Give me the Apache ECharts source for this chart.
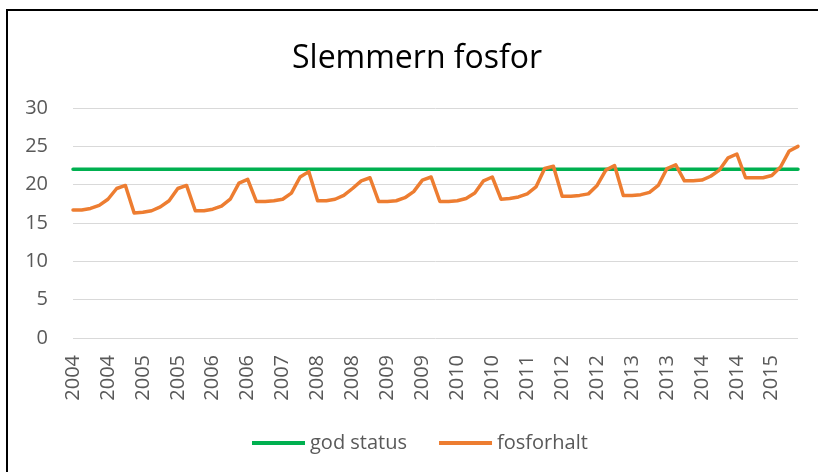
<!DOCTYPE html>
<html>
<head>
<meta charset="utf-8">
<script src="https://cdn.jsdelivr.net/npm/echarts@6/dist/echarts.min.js"></script>
<style>
  html, body { margin: 0; padding: 0; background: #fff; }
  #chart { width: 818px; height: 472px; }
</style>
</head>
<body>
<div id="chart"></div>
<script>
// år i serien, 7 mätningar per år
const years = [2004, 2005, 2006, 2007, 2008, 2009, 2010, 2011, 2012, 2013, 2014, 2015];

// fosforhalt per år
const fosforByYear = [
  [16.7, 16.7, 16.9, 17.3, 18.1, 19.5, 19.9],
  [16.3, 16.4, 16.6, 17.1, 17.9, 19.5, 19.9],
  [16.6, 16.6, 16.8, 17.2, 18.1, 20.2, 20.7],
  [17.8, 17.8, 17.9, 18.1, 18.9, 21.0, 21.7],
  [17.9, 17.9, 18.1, 18.6, 19.5, 20.5, 20.9],
  [17.8, 17.8, 17.9, 18.3, 19.1, 20.6, 21.0],
  [17.8, 17.8, 17.9, 18.2, 18.9, 20.5, 21.0],
  [18.1, 18.2, 18.4, 18.8, 19.7, 22.1, 22.4],
  [18.5, 18.5, 18.6, 18.8, 19.9, 21.9, 22.5],
  [18.6, 18.6, 18.7, 19.0, 19.9, 22.1, 22.6],
  [20.5, 20.5, 20.6, 21.1, 21.9, 23.5, 24.0],
  [20.9, 20.9, 20.9, 21.2, 22.3, 24.4, 25.0]
];

// gränsvärde för god status
const godStatus = 22;

const categories = [];
const fosforhalt = [];
fosforByYear.forEach((row, i) => {
  row.forEach(v => {
    categories.push(String(years[i]));
    fosforhalt.push(v);
  });
});
const godStatusData = categories.map(() => godStatus);

const chart = echarts.init(document.getElementById('chart'));
const font = '"Open Sans", sans-serif';

chart.setOption({
  animation: false,
  textStyle: { fontFamily: font },
  title: {
    text: 'Slemmern fosfor',
    left: 287,
    top: 38,
    textStyle: { fontFamily: font, fontSize: 32, fontWeight: 'normal', color: '#000' }
  },
  grid: { left: 73, right: 20, top: 108, bottom: 134 },
  legend: {
    bottom: 14,
    left: 247,
    icon: 'rect',
    itemWidth: 53,
    itemHeight: 4,
    itemGap: 32,
    textStyle: { fontFamily: font, fontSize: 20, color: '#595959' },
    data: ['god status', 'fosforhalt']
  },
  xAxis: {
    type: 'category',
    data: categories,
    boundaryGap: false,
    axisLine: { show: false },
    axisTick: { show: false },
    axisLabel: {
      interval: 3,
      rotate: 90,
      margin: 17,
      fontFamily: font,
      fontSize: 20,
      color: '#595959'
    }
  },
  yAxis: {
    type: 'value',
    min: 0,
    max: 30,
    interval: 5,
    axisLine: { show: false },
    axisTick: { show: false },
    axisLabel: { margin: 25, fontFamily: font, fontSize: 20, color: '#595959' },
    splitLine: { lineStyle: { color: '#d9d9d9', width: 1 } }
  },
  series: [
    {
      name: 'god status',
      type: 'line',
      data: godStatusData,
      symbol: 'none',
      lineStyle: { color: '#00b050', width: 3.5, cap: 'round' },
      itemStyle: { color: '#00b050' }
    },
    {
      name: 'fosforhalt',
      type: 'line',
      data: fosforhalt,
      symbol: 'none',
      lineStyle: { color: '#ed7d31', width: 3.5, cap: 'round', join: 'round' },
      itemStyle: { color: '#ed7d31' }
    }
  ],
  graphic: [
    {
      type: 'rect',
      shape: { x: 7, y: 10, width: 840, height: 500 },
      style: { fill: 'none', stroke: '#000', lineWidth: 2 },
      silent: true
    }
  ]
});
</script>
</body>
</html>
